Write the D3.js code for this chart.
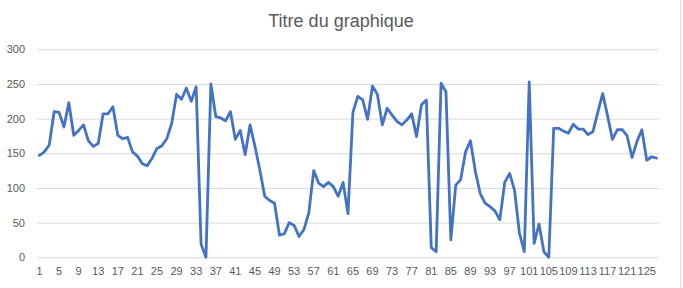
<!DOCTYPE html>
<html>
<head>
<meta charset="utf-8">
<script src="https://cdn.jsdelivr.net/npm/d3@7"></script>
<style>
  html, body { margin: 0; padding: 0; background: #fff; }
  svg { display: block; }
</style>
</head>
<body>
<svg id="chart"></svg>
<script>
// values, one per category (1..127)
const values = [
  147, 152, 162, 210, 209, 188, 223, 176, 183, 191,
  168, 160, 164, 207, 207, 217, 176, 171, 173, 152,
  146, 135, 132, 143, 157, 161, 171, 193, 235, 228,
  244, 225, 246, 19, 0, 250, 203, 201, 197, 210,
  170, 183, 148, 191, 160, 126, 88, 82, 78, 32,
  34, 50, 46, 30, 40, 64, 125, 107, 102, 108,
  102, 88, 108, 63, 209, 232, 227, 199, 247, 235,
  191, 215, 205, 196, 191, 198, 207, 174, 220, 227,
  14, 8, 251, 239, 25, 104, 112, 152, 168, 124,
  92, 78, 73, 67, 54, 108, 121, 97, 35, 8,
  253, 20, 48, 8, 0, 186, 186, 182, 179, 192,
  185, 185, 177, 181, 209, 236, 204, 170, 184, 184,
  175, 144, 167, 184, 140, 145, 143
];
const categories = values.map((v, i) => i + 1);
const yTicks = [0, 50, 100, 150, 200, 250, 300];
const title = "Titre du graphique";

const width = 683, height = 288;
const margin = { top: 49.3, right: 24, bottom: 30.7, left: 37 };

const svg = d3.select("#chart")
  .attr("width", width)
  .attr("height", height)
  .attr("viewBox", [0, 0, width, height]);

const x = d3.scaleBand()
  .domain(categories)
  .range([margin.left, width - margin.right])
  .paddingInner(0)
  .paddingOuter(0);

const y = d3.scaleLinear()
  .domain([0, 300])
  .range([height - margin.bottom, margin.top]);

const cx = d => x(d) + x.bandwidth() / 2;

//chart border on the right
svg.append("line")
  .attr("x1", 680.5).attr("x2", 680.5)
  .attr("y1", 0).attr("y2", height)
  .attr("stroke", "#d9d9d9");

//title
svg.append("text")
  .attr("x", 341)
  .attr("y", 27)
  .attr("text-anchor", "middle")
  .attr("fill", "#595959")
  .style("font", "18px 'Liberation Sans', Arial, sans-serif")
  .text(title);

//gridlines + y labels
const yAxis = d3.axisLeft(y)
  .tickValues(yTicks)
  .tickSize(-(width - margin.right - margin.left))
  .tickPadding(12);

const gy = svg.append("g")
  .attr("transform", `translate(${margin.left},0)`)
  .call(yAxis);
gy.select(".domain").remove();
gy.selectAll(".tick line").attr("stroke", "#d9d9d9").attr("stroke-width", 1);
gy.selectAll(".tick text")
  .attr("fill", "#595959")
  .style("font", "11px 'Liberation Sans', Arial, sans-serif");

//x labels, every 4th category
const xAxis = d3.axisBottom(x)
  .tickValues(categories.filter(c => (c - 1) % 4 === 0))
  .tickSize(0)
  .tickPadding(10);

const gx = svg.append("g")
  .attr("transform", `translate(0,${y(0)})`)
  .call(xAxis);
gx.select(".domain").remove();
gx.selectAll(".tick text")
  .attr("fill", "#595959")
  .style("font", "11px 'Liberation Sans', Arial, sans-serif");

//series line
const line = d3.line()
  .x((d, i) => cx(categories[i]))
  .y(d => y(d));

svg.append("path")
  .datum(values)
  .attr("fill", "none")
  .attr("stroke", "#4472C4")
  .attr("stroke-width", 2.8)
  .attr("stroke-linejoin", "round")
  .attr("stroke-linecap", "round")
  .attr("d", line);
</script>
</body>
</html>
